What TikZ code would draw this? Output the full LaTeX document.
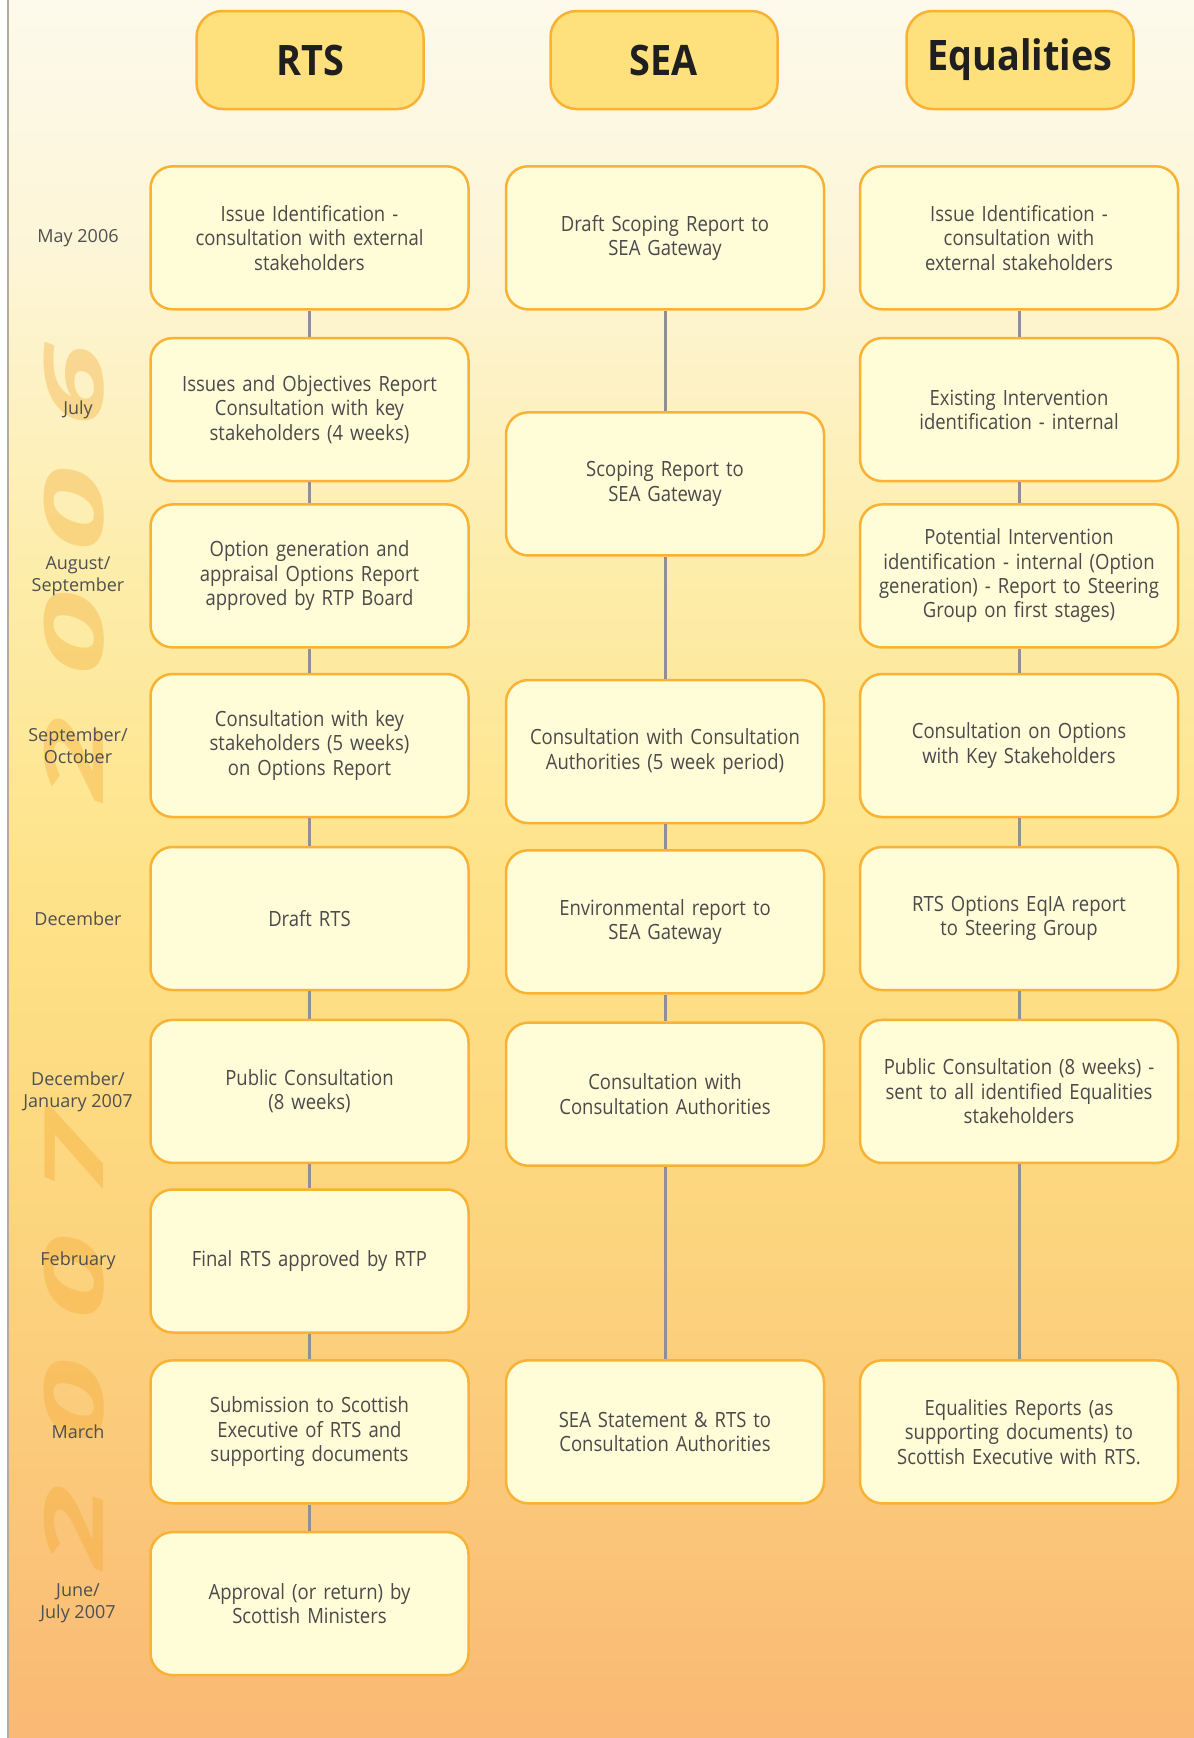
\documentclass[tikz,border=0pt]{standalone}
\usepackage{graphicx}
\usepackage{fontspec}
\setmainfont{Open Sans}
\newfontfamily\boxfont[FakeStretch=0.88]{Open Sans}
\newfontfamily\headfont[FakeStretch=0.9]{Open Sans}
\newfontfamily\wmfont{Open Sans}
\definecolor{boxfill}{HTML}{FFFCD8}
\definecolor{boxline}{HTML}{F9B233}
\definecolor{headfill}{HTML}{FEE07C}
\definecolor{conn}{HTML}{8F8F96}
\definecolor{txt}{HTML}{4A4A4A}
\definecolor{mtxt}{HTML}{505050}
\definecolor{wm}{HTML}{F4A52A}
\definecolor{bgA}{HTML}{FDFAEC}
\definecolor{bgB}{HTML}{FDF5D6}
\definecolor{bgC}{HTML}{FDEDAA}
\definecolor{bgD}{HTML}{FEE38A}
\definecolor{bgE}{HTML}{FDD980}
\definecolor{bgF}{HTML}{FBCB7B}
\definecolor{bgG}{HTML}{FAB974}
\definecolor{edge}{HTML}{B4ACA0}
\pgfdeclareverticalshading{bgshade}{100bp}{color(0bp)=(bgG); color(25bp)=(bgG); color(34bp)=(bgF); color(42.5bp)=(bgE); color(50bp)=(bgD); color(58.5bp)=(bgC); color(67.5bp)=(bgB); color(75bp)=(bgA); color(100bp)=(bgA)}
\tikzset{
  stage/.style={draw=boxline, line width=2.5pt, fill=boxfill, rounded corners=22pt,
    minimum width=318pt, minimum height=143pt, text width=306pt, align=center,
    inner sep=0pt, font={\boxfont\fontsize{21}{24.4}\selectfont}, text=txt},
  head/.style={draw=boxline, line width=2.5pt, fill=headfill, rounded corners=26pt,
    minimum width=227pt, minimum height=98pt, inner sep=0pt,
    font={\headfont\bfseries\fontsize{42}{48}\selectfont}, text=black!88},
  month/.style={align=center, inner sep=0pt, font={\fontsize{18}{22}\selectfont}, text=mtxt},
  link/.style={draw=conn, line width=3pt},
  wmark/.style={rotate=90, inner sep=0pt, text=wm, text opacity=0.34,
    font={\wmfont\bfseries\itshape\fontsize{82}{90}\selectfont}}
}
\newcommand{\wmyear}[4]{\scalebox{1.85}[1]{#1\kern22pt#2\kern22pt#3\kern22pt#4}}
\begin{document}
\begin{tikzpicture}[x=1pt,y=-1pt]
\useasboundingbox (0,0) rectangle (1194,1738);
\fill[white] (0,0) rectangle (1194,1738);
\shade[shading=bgshade] (9,0) rectangle (1194,1738);
\draw[edge, line width=2pt] (8,0) -- (8,1738);
% watermark years
\node[wmark] (y2006) at (74,572) {\wmyear2006};
\node[wmark] (y2007) at (74,1340) {\wmyear2007};
% headers
\node[head] (hR) at (310,60) {RTS};
\node[head] (hS) at (664,60) {SEA};
\node[head] (hE) at (1020,60) {Equalities};
% months
\node[month] (m1) at (78,237.8) {May 2006};
\node[month] (m2) at (78,409.6) {July};
\node[month] (m3) at (78,575.9) {August/\\September};
\node[month] (m4) at (78,745.5) {September/\\October};
\node[month] (m5) at (78,918.5) {December};
\node[month] (m6) at (78,1091.4) {December/\\January 2007};
\node[month] (m7) at (78,1261) {February};
\node[month] (m8) at (78,1431.8) {March};
\node[month] (m9) at (78,1603.6) {June/\\July 2007};
% RTS column
\node[stage] (r1) at (309.5,237.8) {Issue Identification -\\consultation with external\\stakeholders};
\node[stage] (r2) at (309.5,409.6) {Issues and Objectives Report\\Consultation with key\\stakeholders (4 weeks)};
\node[stage] (r3) at (309.5,575.9) {Option generation and\\appraisal Options Report\\approved by RTP Board};
\node[stage] (r4) at (309.5,745.5) {Consultation with key\\stakeholders (5 weeks)\\on Options Report};
\node[stage] (r5) at (309.5,918.5) {Draft RTS};
\node[stage] (r6) at (309.5,1091.4) {Public Consultation\\(8 weeks)};
\node[stage] (r7) at (309.5,1261) {Final RTS approved by RTP};
\node[stage] (r8) at (309.5,1431.8) {Submission to Scottish\\Executive of RTS and\\supporting documents};
\node[stage] (r9) at (309.5,1603.6) {Approval (or return) by\\Scottish Ministers};
% SEA column
\node[stage] (s1) at (665,237.8) {Draft Scoping Report to\\SEA Gateway};
\node[stage] (s2) at (665,483.9) {Scoping Report to\\SEA Gateway};
\node[stage] (s3) at (665,751.6) {Consultation with Consultation\\Authorities (5 week period)};
\node[stage] (s4) at (665,921.8) {Environmental report to\\SEA Gateway};
\node[stage] (s5) at (665,1094.2) {Consultation with\\Consultation Authorities};
\node[stage] (s6) at (665,1431.8) {SEA Statement \& RTS to\\Consultation Authorities};
% Equalities column
\node[stage] (e1) at (1019,237.8) {Issue Identification -\\consultation with\\external stakeholders};
\node[stage] (e2) at (1019,409.6) {Existing Intervention\\identification - internal};
\node[stage] (e3) at (1019,575.9) {Potential Intervention\\identification - internal (Option\\generation) - Report to Steering\\Group on first stages)};
\node[stage] (e4) at (1019,745.5) {Consultation on Options\\with Key Stakeholders};
\node[stage] (e5) at (1019,918.5) {RTS Options EqIA report\\to Steering Group};
\node[stage] (e6) at (1019,1091.4) {Public Consultation (8 weeks) -\\sent to all identified Equalities\\stakeholders};
\node[stage] (e8) at (1019,1431.8) {Equalities Reports (as\\supporting documents) to\\Scottish Executive with RTS.};
% connectors
\foreach \a/\b in {r1/r2,r2/r3,r3/r4,r4/r5,r5/r6,r6/r7,r7/r8,r8/r9,
                   s1/s2,s2/s3,s3/s4,s4/s5,s5/s6,
                   e1/e2,e2/e3,e3/e4,e4/e5,e5/e6,e6/e8}
  \draw[link] (\a.south) -- (\b.north);
\end{tikzpicture}
\end{document}
